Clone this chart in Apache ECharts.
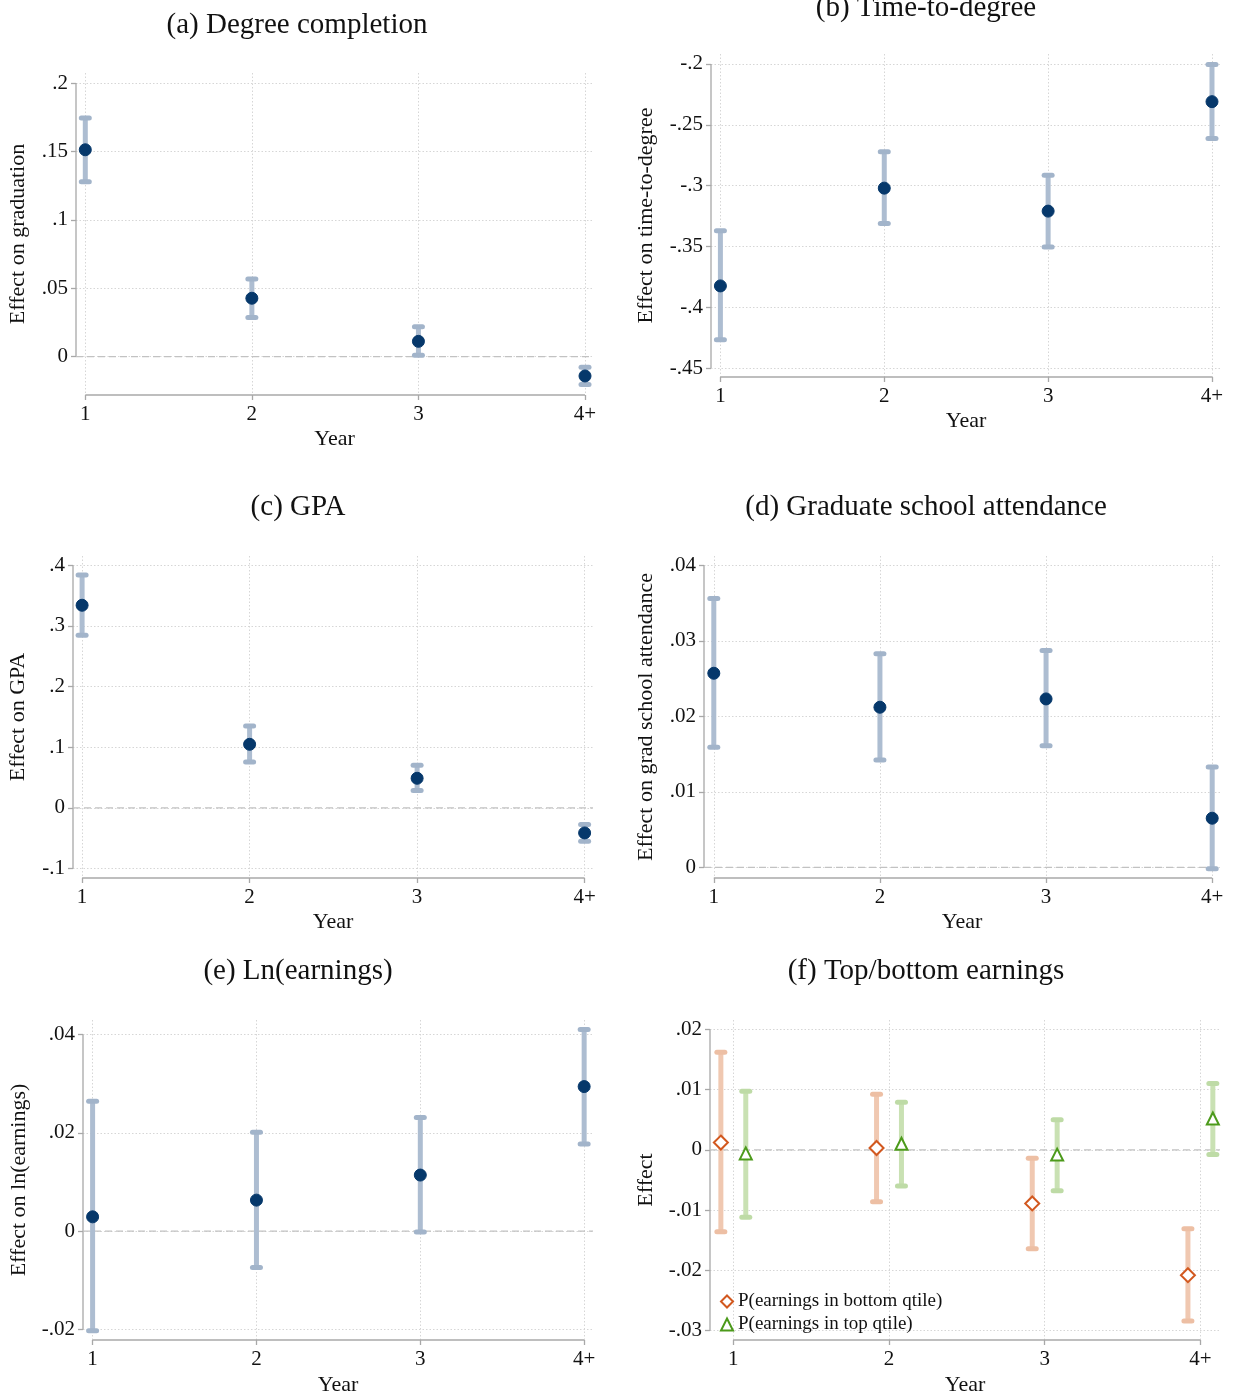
<!DOCTYPE html>
<html><head><meta charset="utf-8">
<script src="https://cdn.jsdelivr.net/npm/echarts@6/dist/echarts.min.js"></script>
<style>html,body{margin:0;padding:0;background:#fff}#c{width:1233px;height:1397px}</style>
</head><body><div id="c"></div>
<script>
// ---------- data ----------
const years = ['1', '2', '3', '4+'];
const yearPos = [1, 2, 3, 4];

const gradEst = [0.1512, 0.0427, 0.0112, -0.0141];
const gradLo  = [0.1279, 0.0286, 0.0010, -0.0204];
const gradHi  = [0.1745, 0.0568, 0.0218, -0.0078];
const gradTicks = [0, 0.05, 0.1, 0.15, 0.2];

const ttdEst = [-0.3825, -0.3021, -0.3210, -0.2310];
const ttdLo  = [-0.4267, -0.3312, -0.3504, -0.2612];
const ttdHi  = [-0.3372, -0.2722, -0.2914, -0.2005];
const ttdTicks = [-0.45, -0.4, -0.35, -0.3, -0.25, -0.2];

const gpaEst = [0.3341, 0.1049, 0.0489, -0.0412];
const gpaLo  = [0.2846, 0.0758, 0.0286, -0.0549];
const gpaHi  = [0.3841, 0.1352, 0.0703, -0.0275];
const gpaTicks = [-0.1, 0, 0.1, 0.2, 0.3, 0.4];

const gradSchEst = [0.0257, 0.0212, 0.0223, 0.0065];
const gradSchLo  = [0.0159, 0.0142, 0.0161, -0.0002];
const gradSchHi  = [0.0356, 0.0283, 0.0287, 0.0133];
const gradSchTicks = [0, 0.01, 0.02, 0.03, 0.04];

const lnEarnEst = [0.0029, 0.0063, 0.0114, 0.0294];
const lnEarnLo  = [-0.0203, -0.0074, -0.0002, 0.0177];
const lnEarnHi  = [0.0264, 0.0201, 0.0231, 0.0410];
const lnEarnTicks = [-0.02, 0, 0.02, 0.04];

const bottomEst = [0.0012, 0.0003, -0.0089, -0.0208];
const bottomLo  = [-0.0136, -0.0086, -0.0164, -0.0284];
const bottomHi  = [0.0162, 0.0092, -0.0014, -0.0131];
const topEst = [-0.0006, 0.0010, -0.0008, 0.0052];
const topLo  = [-0.0112, -0.0060, -0.0068, -0.0008];
const topHi  = [0.0097, 0.0079, 0.0050, 0.0110];
const earnTicks = [-0.03, -0.02, -0.01, 0, 0.01, 0.02];

const bottomName = 'P(earnings in bottom qtile)';
const topName = 'P(earnings in top qtile)';

// ---------- style ----------
const FONT = 'Liberation Serif';
const TXT = '#111';
const NAVY = '#06386b', NAVY_CI = '#adbdd1', NAVY_CAP = '#a2b4ca';
const OR = '#d2581f', OR_CI = '#f0c8b1', OR_CAP = '#edbfa4';
const GR = '#4c9a1b', GR_CI = '#c9e1b3', GR_CAP = '#bedba6';
const GRIDC = '#d6d6d6', AXISC = '#a8a8a8';
const dodge = 0.08;

const navyGroup = (est, lo, hi) => ({est, lo, hi, dx: 0, color: NAVY, ci: NAVY_CI, cap: NAVY_CAP, symbol: 'circle', size: 12});

const panels = [
  {title: '(a) Degree completion', tx: 297, ty: 25, yName: 'Effect on graduation', yGap: 47, xGap: 33,
   grid: [76, 73, 593, 395], x: [0.9442, 4.048], y: [-0.028, 0.2073], ticks: gradTicks,
   groups: [navyGroup(gradEst, gradLo, gradHi)]},
  {title: '(b) Time-to-degree', tx: 926, ty: 8, yName: 'Effect on time-to-degree', yGap: 54, xGap: 33,
   grid: [711, 54, 1221, 377], x: [0.9426, 4.055], y: [-0.4574, -0.1918], ticks: ttdTicks,
   groups: [navyGroup(ttdEst, ttdLo, ttdHi)]},
  {title: '(c) GPA', tx: 298, ty: 507, yName: 'Effect on GPA', yGap: 44, xGap: 33,
   grid: [73, 556, 593, 878], x: [0.9457, 4.050], y: [-0.1155, 0.4153], ticks: gpaTicks,
   groups: [navyGroup(gpaEst, gpaLo, gpaHi)]},
  {title: '(d) Graduate school attendance', tx: 926, ty: 507, yName: 'Effect on grad school attendance', yGap: 47, xGap: 33,
   grid: [704, 556, 1220, 878], x: [0.941, 4.047], y: [-0.001417, 0.04123], ticks: gradSchTicks,
   groups: [navyGroup(gradSchEst, gradSchLo, gradSchHi)]},
  {title: '(e) Ln(earnings)', tx: 298, ty: 971, yName: 'Effect on ln(earnings)', yGap: 53, xGap: 34,
   grid: [83, 1020, 593, 1342], x: [0.9414, 4.054], y: [-0.02216, 0.04295], ticks: lnEarnTicks,
   groups: [navyGroup(lnEarnEst, lnEarnLo, lnEarnHi)]},
  {title: '(f) Top/bottom earnings', tx: 926, ty: 971, yName: 'Effect', yGap: 53, xGap: 34,
   grid: [710, 1020, 1220, 1342], x: [0.8502, 4.126], y: [-0.03155, 0.02153], ticks: earnTicks,
   groups: [
     {name: bottomName, est: bottomEst, lo: bottomLo, hi: bottomHi, dx: -dodge, color: OR, ci: OR_CI, cap: OR_CAP, symbol: 'emptyDiamond', size: 14},
     {name: topName, est: topEst, lo: topLo, hi: topHi, dx: dodge, color: GR, ci: GR_CI, cap: GR_CAP, symbol: 'emptyTriangle', size: 12}
   ]}
];

function fmtY(v) {
  if (Math.abs(v) < 1e-12) return '0';
  return String(+v.toFixed(4)).replace(/^(-?)0\./, '$1.');
}
function fmtX(v) {
  const k = yearPos.findIndex(p => Math.abs(p - v) < 1e-9);
  return k >= 0 ? years[k] : '';
}

function ciRender(color, capColor) {
  return function (params, api) {
    const x = api.value(0), lo = api.value(1), hi = api.value(2);
    const a = api.coord([x, lo]), b = api.coord([x, hi]);
    const cw = 4;
    return {type: 'group', children: [
      {type: 'line', shape: {x1: a[0], y1: a[1], x2: b[0], y2: b[1]}, style: {stroke: color, lineWidth: 5}},
      {type: 'line', shape: {x1: a[0] - cw, y1: a[1], x2: a[0] + cw, y2: a[1]}, style: {stroke: capColor, lineWidth: 5, lineCap: 'round'}},
      {type: 'line', shape: {x1: b[0] - cw, y1: b[1], x2: b[0] + cw, y2: b[1]}, style: {stroke: capColor, lineWidth: 5, lineCap: 'round'}}
    ]};
  };
}

const option = {
  animation: false,
  backgroundColor: '#fff',
  grid: [], xAxis: [], yAxis: [], series: [], graphic: [],
  legend: {
    data: [bottomName, topName], orient: 'vertical', left: 720, top: 1292,
    itemWidth: 12, itemHeight: 12, itemGap: 4, padding: 0,
    textStyle: {fontFamily: FONT, fontSize: 19, color: TXT}
  }
};

const lineSeries = (i, data, style, z) => ({
  type: 'line', xAxisIndex: i, yAxisIndex: i, data, symbol: 'none', silent: true, clip: false,
  lineStyle: style, z, legendHoverLink: false
});

panels.forEach((p, i) => {
  const [l, t, r, b] = p.grid;
  option.grid.push({left: l, top: t, width: r - l, height: b - t});
  option.xAxis.push({
    type: 'value', gridIndex: i, min: p.x[0], max: p.x[1], position: 'bottom',
    name: 'Year', nameLocation: 'middle', nameGap: p.xGap,
    nameTextStyle: {fontFamily: FONT, fontSize: 22, color: TXT},
    axisLine: {show: false, onZero: false},
    axisTick: {show: true, length: 5, customValues: yearPos, lineStyle: {color: AXISC, width: 1.3}},
    axisLabel: {customValues: yearPos, formatter: fmtX, margin: 9, fontFamily: FONT, fontSize: 21, color: TXT},
    splitLine: {show: true, lineStyle: {color: GRIDC, width: 1, type: [1.5, 2]}}
  });
  option.yAxis.push({
    type: 'value', gridIndex: i, min: p.y[0], max: p.y[1], position: 'left',
    name: p.yName, nameLocation: 'middle', nameGap: p.yGap,
    nameTextStyle: {fontFamily: FONT, fontSize: 22, color: TXT},
    axisLine: {show: false, onZero: false},
    axisTick: {show: true, length: 5, customValues: p.ticks, lineStyle: {color: AXISC, width: 1.3}},
    axisLabel: {customValues: p.ticks, formatter: fmtY, margin: 8, padding: [9, 0, 0, 0], fontFamily: FONT, fontSize: 21, color: TXT},
    splitLine: {show: true, lineStyle: {color: GRIDC, width: 1, type: [1.5, 2]}}
  });
  // axis lines spanning tick ranges
  option.series.push(lineSeries(i, [[p.x[0], p.ticks[0]], [p.x[0], p.ticks[p.ticks.length - 1]]], {color: AXISC, width: 1.3}, 2));
  option.series.push(lineSeries(i, [[yearPos[0], p.y[0]], [yearPos[yearPos.length - 1], p.y[0]]], {color: AXISC, width: 1.3}, 2));
  // zero reference line
  option.series.push(lineSeries(i, [[p.x[0], 0], [p.x[1], 0]], {color: '#c2c2c2', width: 1.2, type: [7, 4]}, 2));
  p.groups.forEach(g => {
    const xs = yearPos.map(x => x + g.dx);
    option.series.push({
      type: 'custom', xAxisIndex: i, yAxisIndex: i, silent: true, clip: false, z: 3,
      data: xs.map((x, k) => [x, g.lo[k], g.hi[k]]),
      renderItem: ciRender(g.ci, g.cap)
    });
    option.series.push({
      type: 'scatter', name: g.name, xAxisIndex: i, yAxisIndex: i, z: 4,
      data: xs.map((x, k) => [x, g.est[k]]),
      symbol: g.symbol, symbolSize: g.size,
      itemStyle: {color: g.color, borderColor: g.color, opacity: 1}
    });
  });
  option.graphic.push({
    type: 'text', x: p.tx, y: p.ty, silent: true,
    style: {text: p.title, align: 'center', verticalAlign: 'middle', fontFamily: FONT, fontSize: 29, fill: TXT}
  });
});

const chart = echarts.init(document.getElementById('c'), null, {renderer: 'canvas'});
chart.setOption(option);
</script>
</body></html>
